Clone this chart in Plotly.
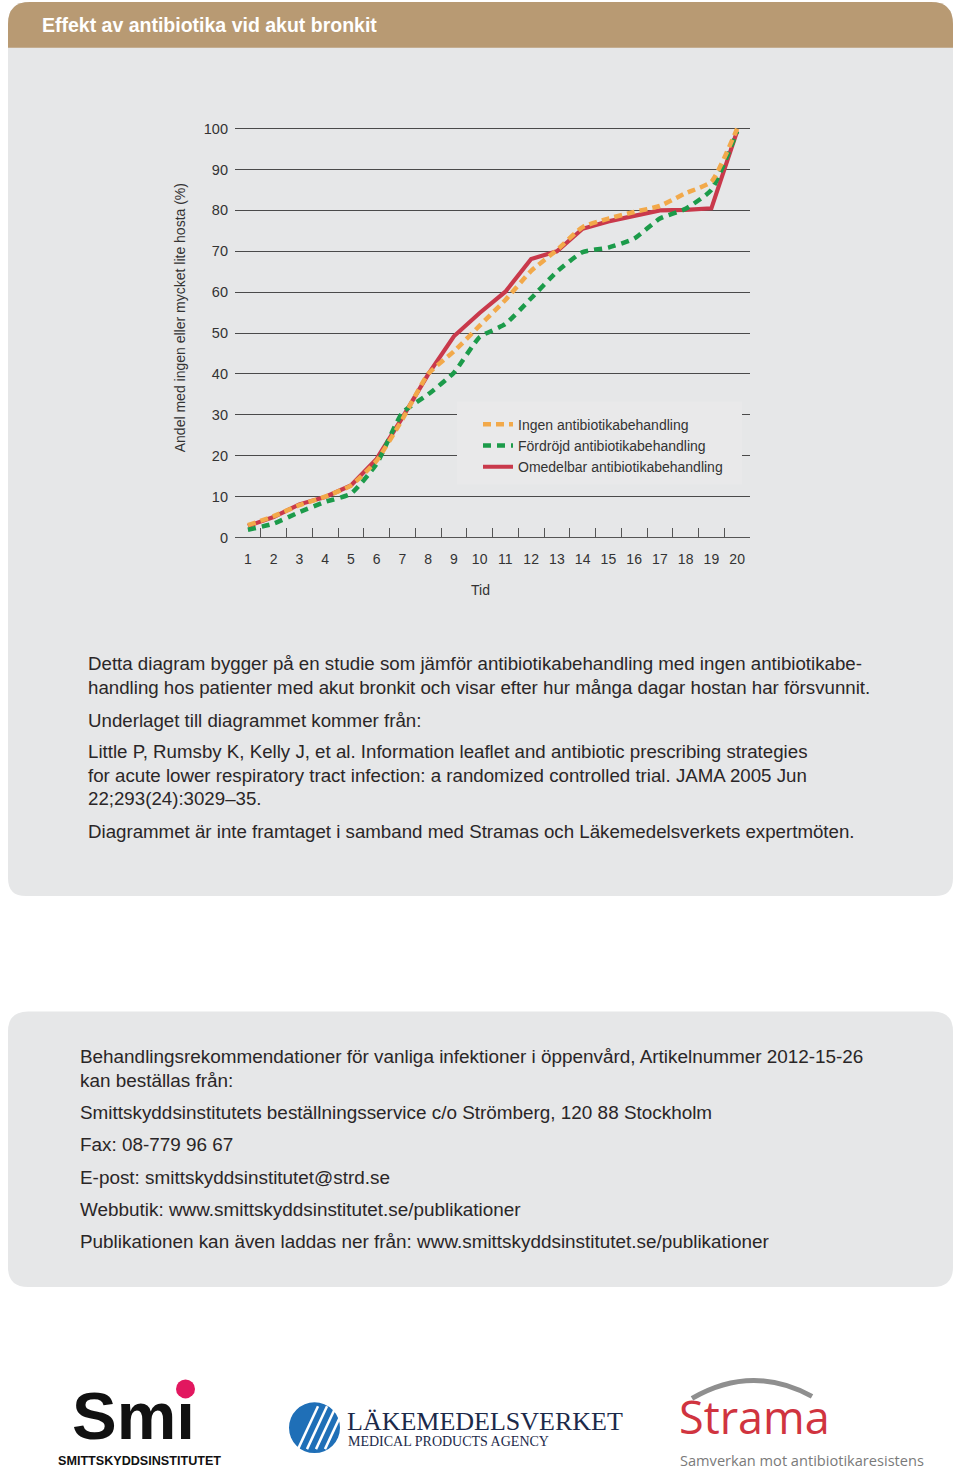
import plotly.graph_objects as go

# ---------------- data ----------------
days = ["1", "2", "3", "4", "5", "6", "7", "8", "9", "10",
        "11", "12", "13", "14", "15", "16", "17", "18", "19", "20"]
ingen = [3.0, 5.2, 7.9, 10.0, 12.7, 18.8, 28.9, 40.0, 45.5, 51.8,
         58.1, 65.2, 70.3, 75.9, 78.0, 79.6, 81.1, 84.2, 87.0, 100.0]
fordrojd = [1.9, 3.4, 6.2, 8.7, 10.7, 18.0, 30.5, 35.0, 40.3, 49.0,
            52.2, 58.5, 65.0, 69.8, 70.9, 73.1, 78.0, 80.4, 85.0, 99.3]
omedelbar = [2.8, 5.0, 8.1, 9.9, 12.7, 19.2, 29.3, 39.9, 49.2, 54.9,
             60.1, 68.1, 70.0, 75.5, 77.3, 78.7, 80.0, 80.1, 80.5, 99.4]
y_ticks = [0, 10, 20, 30, 40, 50, 60, 70, 80, 90, 100]

series_names = ["Ingen antibiotikabehandling",
                "Fördröjd antibiotikabehandling",
                "Omedelbar antibiotikabehandling"]

title_text = "Effekt av antibiotika vid akut bronkit"
y_title = "Andel med ingen eller mycket lite hosta (%)"
x_title = "Tid"

para1 = [
    "Detta diagram bygger på en studie som jämför antibiotikabehandling med ingen antibiotikabe-",
    "handling hos patienter med akut bronkit och visar efter hur många dagar hostan har försvunnit.",
    "Underlaget till diagrammet kommer från:",
    "Little P, Rumsby K, Kelly J, et al. Information leaflet and antibiotic prescribing strategies",
    "for acute lower respiratory tract infection: a randomized controlled trial. JAMA 2005 Jun",
    "22;293(24):3029–35.",
    "Diagrammet är inte framtaget i samband med Stramas och Läkemedelsverkets expertmöten.",
]
para1_y = [667, 691, 724, 756, 780, 803, 836]

para2 = [
    "Behandlingsrekommendationer för vanliga infektioner i öppenvård, Artikelnummer 2012-15-26",
    "kan beställas från:",
    "Smittskyddsinstitutets beställningsservice c/o Strömberg, 120 88 Stockholm",
    "Fax: 08-779 96 67",
    "E-post: smittskyddsinstitutet@strd.se",
    "Webbutik: www.smittskyddsinstitutet.se/publikationer",
    "Publikationen kan även laddas ner från: www.smittskyddsinstitutet.se/publikationer",
]
para2_y = [1062, 1086, 1119, 1151, 1184, 1216, 1248]

# ---------------- geometry helpers ----------------
W, H = 960, 1477
PX0, PX1 = 235, 750          # plot area left/right (px)
PY0 = 540.4                  # y=0 pixel
PPU = 4.111                  # pixels per y unit
YMAX = 102
PYTOP = PY0 - YMAX * PPU


def X(px):
    return px / W


def Y(py):
    return 1 - py / H


def rr_path(x0, y0, x1, y1, rt, rb):
    p = []
    p.append(f"M {X(x0 + rt)},{Y(y0)}")
    p.append(f"L {X(x1 - rt)},{Y(y0)}")
    p.append(f"Q {X(x1)},{Y(y0)} {X(x1)},{Y(y0 + rt)}")
    p.append(f"L {X(x1)},{Y(y1 - rb)}")
    p.append(f"Q {X(x1)},{Y(y1)} {X(x1 - rb)},{Y(y1)}")
    p.append(f"L {X(x0 + rb)},{Y(y1)}")
    p.append(f"Q {X(x0)},{Y(y1)} {X(x0)},{Y(y1 - rb)}")
    p.append(f"L {X(x0)},{Y(y0 + rt)}")
    p.append(f"Q {X(x0)},{Y(y0)} {X(x0 + rt)},{Y(y0)}")
    p.append("Z")
    return " ".join(p)


PANEL = "#e6e7e8"
TAN = "#b89a73"
TXT = "#2a2627"
FONT = "Liberation Sans, Arial, sans-serif"

ORANGE = "#f2a94a"
GREEN = "#1c9b4a"
RED = "#c9394b"

fig = go.Figure()

fig.add_trace(go.Scatter(
    x=days, y=omedelbar, mode="lines", name=series_names[2], legendrank=3,
    line=dict(color=RED, width=4.2), hoverinfo="skip"))
fig.add_trace(go.Scatter(
    x=days, y=fordrojd, mode="lines", name=series_names[1], legendrank=2,
    line=dict(color=GREEN, width=4.5, dash="8px,6px", shape="spline", smoothing=0.5),
    hoverinfo="skip"))
fig.add_trace(go.Scatter(
    x=days, y=ingen, mode="lines", name=series_names[0], legendrank=1,
    line=dict(color=ORANGE, width=4.5, dash="8px,5px", shape="spline", smoothing=0.5),
    hoverinfo="skip"))

shapes = []
# top panel body + header
shapes.append(dict(type="path", xref="paper", yref="paper", layer="below",
                   path=rr_path(8, 2, 953, 901, 22, 18), fillcolor=PANEL,
                   line=dict(width=0)))
shapes.append(dict(type="path", xref="paper", yref="paper", layer="below",
                   path=rr_path(8, 2, 953, 48, 22, 0), fillcolor=TAN,
                   line=dict(width=0)))
# bottom panel
shapes.append(dict(type="path", xref="paper", yref="paper", layer="below",
                   path=rr_path(8, 1017, 953, 1294, 20, 20), fillcolor=PANEL,
                   line=dict(width=0)))

# legend background box (hides the grid lines; no data lines pass here)
shapes.append(dict(type="rect", xref="paper", yref="paper", layer="above",
                   x0=X(457), x1=X(742), y0=Y(487), y1=Y(404),
                   fillcolor="#e9e9ea", line=dict(width=0)))

# Smi pink dot
shapes.append(dict(type="circle", xref="paper", yref="paper",
                   x0=X(176), x1=X(195), y0=Y(1406), y1=Y(1387),
                   fillcolor="#e2175f", line=dict(width=0)))
# Läkemedelsverket emblem
shapes.append(dict(type="circle", xref="paper", yref="paper",
                   x0=X(289), x1=X(340), y0=Y(1461), y1=Y(1410),
                   fillcolor="#1f6fb7", line=dict(width=0)))
for k in range(4):
    sx = 298 + k * 9
    shapes.append(dict(type="line", xref="paper", yref="paper",
                       x0=X(sx), y0=Y(1457), x1=X(sx + 20), y1=Y(1414),
                       line=dict(color="white", width=2.5)))
# Strama arc
shapes.append(dict(type="path", xref="paper", yref="paper",
                   path=f"M {X(692)},{Y(1406)} Q {X(752)},{Y(1371)} {X(812)},{Y(1404)}",
                   line=dict(color="#8f8f8f", width=5)))

ann = []
ann.append(dict(text=f"<b>{title_text}</b>", x=X(40), y=Y(25), xref="paper", yref="paper",
                xanchor="left", yanchor="middle", showarrow=False,
                font=dict(family=FONT, size=19.5, color="white")))
ann.append(dict(text=y_title, x=X(180), y=Y(320), xref="paper", yref="paper",
                xanchor="center", yanchor="middle", textangle=-90, showarrow=False,
                font=dict(family=FONT, size=14, color="#333333")))
ann.append(dict(text=x_title, x=X(480), y=Y(593), xref="paper", yref="paper",
                xanchor="center", yanchor="middle", showarrow=False,
                font=dict(family=FONT, size=14, color="#333333")))
for t, yy in zip(para1, para1_y):
    ann.append(dict(text=t, x=X(86), y=Y(yy), xref="paper", yref="paper",
                    xanchor="left", yanchor="middle", showarrow=False,
                    font=dict(family=FONT, size=18.7, color=TXT)))
for t, yy in zip(para2, para2_y):
    ann.append(dict(text=t, x=X(78), y=Y(yy), xref="paper", yref="paper",
                    xanchor="left", yanchor="middle", showarrow=False,
                    font=dict(family=FONT, size=18.9, color=TXT)))

# logos (text approximations)
ann.append(dict(text="<b>Smı</b>", x=X(70), y=Y(1423), xref="paper", yref="paper",
                xanchor="left", yanchor="middle", showarrow=False,
                font=dict(family=FONT, size=67, color="#111111")))
ann.append(dict(text="<b>SMITTSKYDDSINSTITUTET</b>", x=X(139), y=Y(1469), xref="paper",
                yref="paper", xanchor="center", yanchor="middle", showarrow=False,
                font=dict(family=FONT, size=12.6, color="#111111")))
ann.append(dict(text="LÄKEMEDELSVERKET", x=X(345), y=Y(1429), xref="paper", yref="paper",
                xanchor="left", yanchor="middle", showarrow=False,
                font=dict(family="Liberation Serif, DejaVu Serif, serif", size=26,
                          color="#1c2a4a")))
ann.append(dict(text="MEDICAL PRODUCTS AGENCY", x=X(346), y=Y(1449), xref="paper",
                yref="paper", xanchor="left", yanchor="middle", showarrow=False,
                font=dict(family="Liberation Serif, DejaVu Serif, serif", size=14,
                          color="#1c2a4a")))
ann.append(dict(text="Strama", x=X(677), y=Y(1424), xref="paper", yref="paper",
                xanchor="left", yanchor="middle", showarrow=False,
                font=dict(family="Open Sans, sans-serif", size=45, color="#d0343f")))
ann.append(dict(text="Samverkan mot antibiotikaresistens", x=X(678), y=Y(1468),
                xref="paper", yref="paper", xanchor="left", yanchor="middle",
                showarrow=False,
                font=dict(family="Open Sans, sans-serif", size=14.6, color="#7a7a7a")))

fig.update_layout(
    width=W, height=H,
    margin=dict(l=0, r=0, t=0, b=0),
    paper_bgcolor="white",
    plot_bgcolor="rgba(0,0,0,0)",
    font=dict(family=FONT, color="#333333"),
    shapes=shapes,
    annotations=ann,
    showlegend=True,
    legend=dict(x=X(478), y=Y(411), xanchor="left", yanchor="top",
                bgcolor="rgba(0,0,0,0)", font=dict(family=FONT, size=14, color="#333333"),
                itemwidth=30, tracegroupgap=0),
    xaxis=dict(domain=[X(PX0), X(PX1)], type="category", tickson="boundaries",
               range=[-0.5, 19.5],
               ticks="inside", ticklen=9, tickcolor="#555555", tickwidth=1,
               showline=True, linecolor="#555555", linewidth=1,
               showgrid=False, zeroline=False, fixedrange=True,
               tickfont=dict(family=FONT, size=14, color="#333333"),
               ticklabelstandoff=9),
    yaxis=dict(domain=[Y(PY0), Y(PYTOP)], range=[0, YMAX], tickmode="array",
               tickvals=y_ticks, showgrid=True, gridcolor="#4a4a4a", gridwidth=1,
               zeroline=False, showline=False, ticks="", fixedrange=True,
               tickfont=dict(family=FONT, size=14.5, color="#333333"),
               ticklabelstandoff=6),
)

css_js = (
    "var s=document.createElement('style');"
    "s.textContent='html,body{margin:0;padding:0;overflow:hidden;width:960px;height:1477px;}';"
    "document.head.appendChild(s);"
)

fig.write_html(
    "out.html",
    config={"displayModeBar": False},
    post_script=css_js,
)
